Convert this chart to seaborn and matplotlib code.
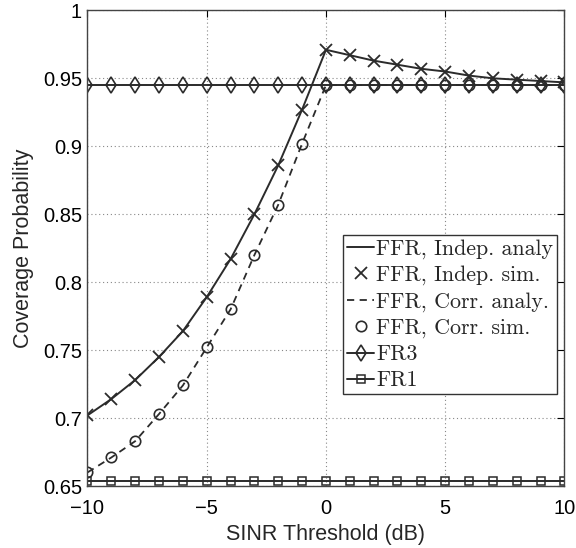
import numpy as np
import pandas as pd
import matplotlib
matplotlib.use("Agg")
import matplotlib.pyplot as plt
import seaborn as sns

# SINR thresholds (dB)
snr_db = list(range(-10, 11))

# FFR, independent shadowing (analysis and simulation share the same points)
ffr_indep = [0.702, 0.714, 0.728, 0.745, 0.764, 0.789, 0.817, 0.850, 0.886, 0.927,
             0.971, 0.967, 0.963, 0.960, 0.957, 0.955, 0.952, 0.950, 0.949, 0.948, 0.947]
# FFR, correlated shadowing
ffr_corr = [0.660, 0.671, 0.683, 0.703, 0.724, 0.752, 0.780, 0.820, 0.857, 0.902,
            0.945, 0.945, 0.945, 0.945, 0.945, 0.945, 0.945, 0.945, 0.945, 0.945, 0.945]
# Reuse-3 and reuse-1 baselines
fr3 = [0.945] * 21
fr1 = [0.6535] * 21

y_ticks = [0.65, 0.7, 0.75, 0.8, 0.85, 0.9, 0.95, 1.0]
x_ticks = [-10, -5, 0, 5, 10]

legend_labels = ["FFR, Indep. analy", "FFR, Indep. sim.", "FFR, Corr. analy.",
                 "FFR, Corr. sim.", "FR3", "FR1"]

sns.set_theme(style="white")
plt.rcParams["font.family"] = ["Liberation Sans", "DejaVu Sans"]

fig = plt.figure(figsize=(5.76, 5.48), dpi=100)
ax = fig.add_axes([0.1519, 0.1131, 0.828, 0.868])

ink = "#2b2b2b"
df = pd.DataFrame({"snr": snr_db, "indep": ffr_indep, "corr": ffr_corr,
                   "fr3": fr3, "fr1": fr1})

sns.lineplot(data=df, x="snr", y="indep", ax=ax, color=ink, lw=1.4,
             label=legend_labels[0])
sns.lineplot(data=df, x="snr", y="indep", ax=ax, color=ink, linestyle="none",
             marker="x", markersize=9, markeredgewidth=1.3, markeredgecolor=ink,
             label=legend_labels[1])
sns.lineplot(data=df, x="snr", y="corr", ax=ax, color=ink, lw=1.3,
             linestyle=(0, (4, 3)), label=legend_labels[2])
sns.lineplot(data=df, x="snr", y="corr", ax=ax, color=ink, linestyle="none",
             marker="o", markersize=7.5, markerfacecolor="none",
             markeredgecolor=ink, markeredgewidth=1.2, label=legend_labels[3])
sns.lineplot(data=df, x="snr", y="fr3", ax=ax, color=ink, lw=1.4,
             marker="d", markersize=8.5, markerfacecolor="none",
             markeredgecolor=ink, markeredgewidth=1.2, label=legend_labels[4])
sns.lineplot(data=df, x="snr", y="fr1", ax=ax, color=ink, lw=1.4,
             marker="s", markersize=6, markerfacecolor="none",
             markeredgecolor=ink, markeredgewidth=1.1, label=legend_labels[5])

ax.set_xlim(-10, 10)
ax.set_ylim(0.65, 1.0)
ax.set_xticks(x_ticks)
ax.set_yticks(y_ticks)
ax.set_xticklabels(["\u221210", "\u22125", "0", "5", "10"])
ax.set_yticklabels(["%g" % v for v in y_ticks])
ax.tick_params(direction="in", length=5, width=0.8, labelsize=14.5, colors="black",
               top=True, right=True)
ax.tick_params(axis="x", pad=9)
ax.tick_params(axis="y", pad=4)
ax.grid(True, linestyle=(0, (1, 2.5)), color="#888888", linewidth=0.8)
for s in ax.spines.values():
    s.set_color("#444444")
    s.set_linewidth(1.0)

ax.set_xlabel("SINR Threshold (dB)", fontsize=15.5, labelpad=5)
ax.set_ylabel("Coverage Probability", fontsize=15.5, labelpad=6)

leg = ax.legend(loc="upper right", bbox_to_anchor=(0.985, 0.528), borderaxespad=0,
                frameon=True, fancybox=False, shadow=False, handlelength=1.2,
                handletextpad=0.12, borderpad=0.18, labelspacing=0.3,
                prop={"family": "cmr10", "size": 15.8})
leg.get_frame().set_edgecolor("#333333")
leg.get_frame().set_linewidth(1.0)
leg.get_frame().set_alpha(1)

fig.savefig("out.png", dpi=100)
